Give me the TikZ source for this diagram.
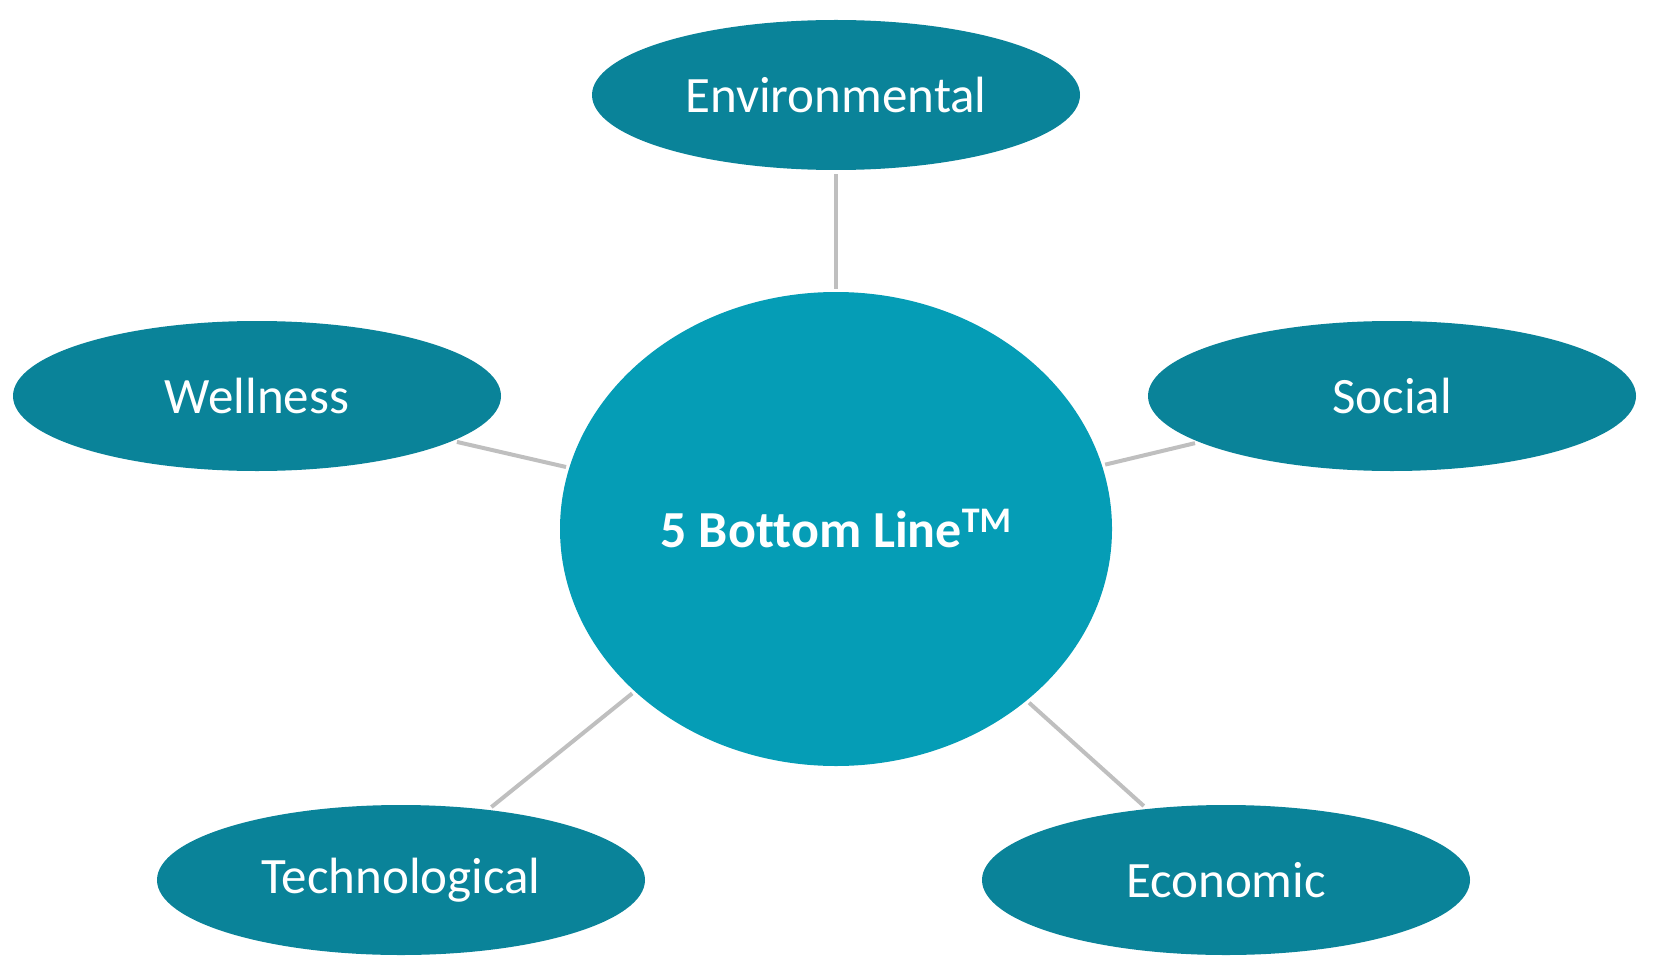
\documentclass[tikz,border=0pt]{standalone}
\usepackage{fontspec}
\setmainfont{Carlito}[Ligatures={NoCommon}]
\usetikzlibrary{shapes.geometric}
\definecolor{outerteal}{HTML}{0A8399}
\definecolor{innerteal}{HTML}{059DB6}
\definecolor{linkgrey}{HTML}{BFBFBF}
\tikzset{
  pillar/.style={ellipse, fill=outerteal, draw=none, inner sep=0pt,
    minimum width=244pt, minimum height=75pt, text=white,
    font=\fontsize{25.5}{30}\selectfont},
  hub/.style={ellipse, fill=innerteal, draw=none, inner sep=0pt,
    minimum width=276pt, minimum height=237pt, text=white,
    font=\fontsize{26}{30}\selectfont\bfseries},
  link/.style={draw=linkgrey, line width=2pt, shorten <=2pt, shorten >=1.5pt}
}
\begin{document}
\begin{tikzpicture}[x=0.5pt,y=-0.5pt]
\useasboundingbox (0,0) rectangle (1658,968);
\node[hub] (hub) at (836,529) {5 Bottom Line\raisebox{7.5pt}{\fontsize{18}{18}\selectfont TM}};
\node[pillar] (env) at (836,95) {Environmental};
\node[pillar] (well) at (257,396) {Wellness};
\node[pillar] (soc) at (1392,396) {Social};
\node[pillar] (tech) at (401,880) {Technological};
\node[pillar] (econ) at (1226,880) {Economic};
\draw[link] (env) -- (hub);
\draw[link] (well) -- (hub);
\draw[link] (soc) -- (hub);
\draw[link] (tech) -- (hub);
\draw[link] (econ) -- (hub);
\end{tikzpicture}
\end{document}
